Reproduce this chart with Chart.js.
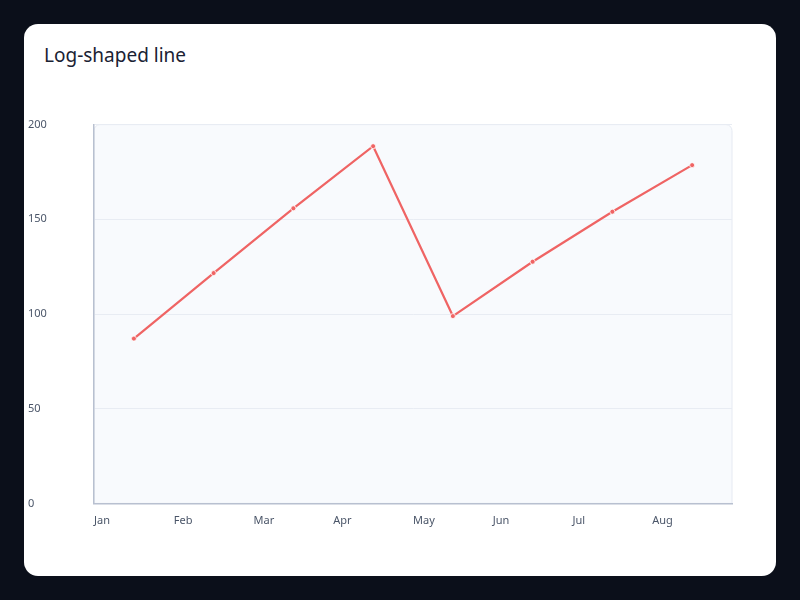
<!DOCTYPE html>
<html><head><meta charset="utf-8">
<script src="https://cdn.jsdelivr.net/npm/chart.js@4"></script>
<style>
html,body{margin:0;padding:0;background:#0b0f1a;width:800px;height:600px;overflow:hidden;font-family:"Noto Sans",sans-serif}
#card{position:absolute;left:24px;top:24px;width:752px;height:552px;background:#fff;border-radius:14px}
#title{position:absolute;left:20px;top:18px;font-size:19px;color:#1a2233}
#c{position:absolute;left:4px;top:50px}
</style></head><body>
<div id="card"><div id="title">Log-shaped line</div><canvas id="c" width="740" height="480" style="width:740px;height:480px"></canvas></div>
<script>
const months=['Jan','Feb','Mar','Apr','May','Jun','Jul','Aug'];
const values=[87,121.6,155.8,188.6,98.9,127.6,154,178.6];
const yTicks=[0,50,100,150,200];
const bgPlugin={id:'bg',beforeDraw(ch){const a=ch.chartArea,c=ch.ctx;c.save();c.fillStyle='#f8fafd';c.strokeStyle='#e6eaf2';c.beginPath();c.roundRect(a.left,a.top,a.right-a.left,a.bottom-a.top,[6,6,0,0]);c.fill();c.stroke();c.restore();}};
new Chart(document.getElementById('c'),{type:'line',
data:{datasets:[{data:values.map((v,i)=>({x:i+0.5,y:v})),borderColor:'#ef6464',backgroundColor:'#ef6464',borderWidth:2.2,pointRadius:2.5,pointBorderColor:'#fff',pointBorderWidth:0.8,tension:0}]},
options:{responsive:false,animation:false,
layout:{padding:{left:0,right:36,top:8,bottom:0}},
plugins:{legend:{display:false},tooltip:{enabled:false}},
scales:{x:{type:'linear',min:0,max:8,grid:{display:false},border:{color:'#b8c0d0',width:1.5},
ticks:{stepSize:1,align:'start',maxRotation:0,autoSkip:false,color:'#4a5568',font:{size:11,family:'Noto Sans'},padding:3,callback:v=>months[v]??''},afterFit:s=>{s.height=33;}},
y:{min:0,max:200,afterBuildTicks:s=>{s.ticks=yTicks.map(v=>({value:v}));},grid:{color:'#e8ecf3',drawTicks:false},border:{color:'#b8c0d0',width:1.5},
ticks:{color:'#4a5568',font:{size:11,family:'Noto Sans'},padding:44,crossAlign:'far'},afterFit:s=>{s.width=66;}}}},
plugins:[bgPlugin]});
</script></body></html>
